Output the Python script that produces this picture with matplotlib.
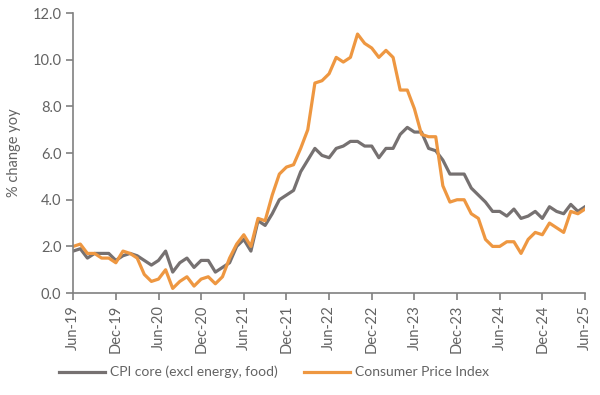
import matplotlib
matplotlib.use('Agg')
import matplotlib.pyplot as plt
import numpy as np

# Monthly yoy % change, Jun-19 .. Jun-25
cpi = [2.0, 2.1, 1.7, 1.7, 1.5, 1.5, 1.3,
       1.8, 1.7, 1.5, 0.8, 0.5, 0.6, 1.0, 0.2, 0.5, 0.7, 0.3, 0.6,
       0.7, 0.4, 0.7, 1.5, 2.1, 2.5, 2.0, 3.2, 3.1, 4.2, 5.1, 5.4,
       5.5, 6.2, 7.0, 9.0, 9.1, 9.4, 10.1, 9.9, 10.1, 11.1, 10.7, 10.5,
       10.1, 10.4, 10.1, 8.7, 8.7, 7.9, 6.8, 6.7, 6.7, 4.6, 3.9, 4.0,
       4.0, 3.4, 3.2, 2.3, 2.0, 2.0, 2.2, 2.2, 1.7, 2.3, 2.6, 2.5,
       3.0, 2.8, 2.6, 3.5, 3.4, 3.6]
core = [1.8, 1.9, 1.5, 1.7, 1.7, 1.7, 1.4,
        1.6, 1.7, 1.6, 1.4, 1.2, 1.4, 1.8, 0.9, 1.3, 1.5, 1.1, 1.4,
        1.4, 0.9, 1.1, 1.3, 2.0, 2.3, 1.8, 3.1, 2.9, 3.4, 4.0, 4.2,
        4.4, 5.2, 5.7, 6.2, 5.9, 5.8, 6.2, 6.3, 6.5, 6.5, 6.3, 6.3,
        5.8, 6.2, 6.2, 6.8, 7.1, 6.9, 6.9, 6.2, 6.1, 5.7, 5.1, 5.1,
        5.1, 4.5, 4.2, 3.9, 3.5, 3.5, 3.3, 3.6, 3.2, 3.3, 3.5, 3.2,
        3.7, 3.5, 3.4, 3.8, 3.5, 3.7]
tick_labels = ['Jun-19', 'Dec-19', 'Jun-20', 'Dec-20', 'Jun-21', 'Dec-21',
               'Jun-22', 'Dec-22', 'Jun-23', 'Dec-23', 'Jun-24', 'Dec-24', 'Jun-25']

months = np.arange(len(cpi))
text_col = '#636363'
axis_col = '#808080'

plt.rcParams['font.family'] = ['Lato', 'DejaVu Sans']

fig = plt.figure(figsize=(6, 3.95), dpi=100)
ax = fig.add_axes([0.122, 0.258, 0.853, 0.709])

ax.plot(months, core, color='#767171', linewidth=2.3, label='CPI core (excl energy, food)')
ax.plot(months, cpi, color='#EE9741', linewidth=2.3, label='Consumer Price Index')

ax.set_xlim(0, 72)
ax.set_ylim(0, 12)
ax.set_yticks(np.arange(0, 12.1, 2))
ax.set_yticklabels([f'{v:.1f}' for v in np.arange(0, 12.1, 2)])
ax.set_xticks(np.arange(0, 73, 6))
ax.set_xticklabels(tick_labels, rotation=90)
ax.set_ylabel('% change yoy', color=text_col, fontsize=10.5, labelpad=8)

for side in ['top', 'right']:
    ax.spines[side].set_visible(False)
for side in ['left', 'bottom']:
    ax.spines[side].set_color(axis_col)
    ax.spines[side].set_linewidth(1.2)
ax.tick_params(colors=axis_col, labelcolor=text_col, labelsize=10.5,
               direction='out', length=5, width=1.2)

fig.legend(loc='center', bbox_to_anchor=(0.457, 0.058), ncol=2, frameon=False,
           fontsize=10, labelcolor=text_col, handlelength=3.3,
           handletextpad=0.35, columnspacing=1.9)

plt.savefig('out.png', dpi=100, facecolor='white')
plt.close()
